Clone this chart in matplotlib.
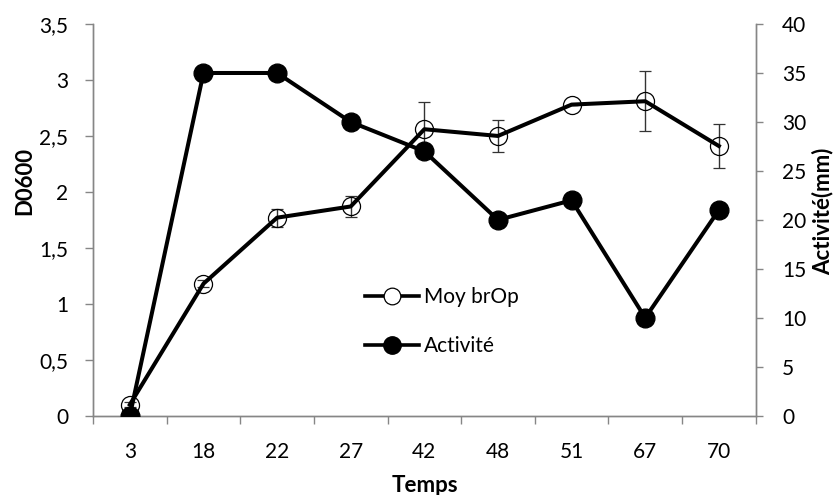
import matplotlib
matplotlib.use("Agg")
import matplotlib.pyplot as plt
import numpy as np
from matplotlib.ticker import FuncFormatter, FixedLocator
from matplotlib.lines import Line2D

# data
temps = ["3", "18", "22", "27", "42", "48", "51", "67", "70"]
moy_brop = [0.10, 1.18, 1.77, 1.87, 2.56, 2.50, 2.78, 2.81, 2.41]
moy_err = [0.02, 0.03, 0.08, 0.09, 0.24, 0.14, 0.0, 0.27, 0.20]
activite = [0, 35, 35, 30, 27, 20, 22, 10, 21]

plt.rcParams['font.family'] = ['Lato', 'DejaVu Sans']
GRAY = '#868686'
FS = 15
LFS = 16

fig = plt.figure(figsize=(8.35, 4.95), dpi=100)
ax1 = fig.add_axes([0.1114, 0.160, 0.7936, 0.7915])
ax2 = ax1.twinx()

x = np.arange(len(temps))

ax1.errorbar(x, moy_brop, yerr=moy_err, color='black', lw=2.9,
             marker='o', ms=13, mfc='none', mec='black', mew=0.9,
             ecolor='#333333', elinewidth=1.0, capsize=4.5, capthick=1.0,
             zorder=3)
ax2.plot(x, activite, color='black', lw=2.9, marker='o', ms=13.5,
         mfc='black', mec='black', zorder=3)

ax1.set_xlim(-0.5, len(temps) - 0.5)
ax1.set_ylim(0, 3.5)
ax2.set_ylim(0, 40)
ax1.set_yticks(np.arange(0, 3.51, 0.5))
ax2.set_yticks(np.arange(0, 41, 5))

def comma(v, pos):
    s = f"{v:g}"
    return s.replace('.', ',')

ax1.yaxis.set_major_formatter(FuncFormatter(comma))

ax1.set_xticks(x)
ax1.set_xticklabels(temps)
ax1.xaxis.set_minor_locator(FixedLocator(np.arange(-0.5, len(temps), 1.0)))
ax1.tick_params(axis='x', which='major', length=0, pad=19, labelsize=FS)
ax1.tick_params(axis='x', which='minor', length=6, color=GRAY, width=1)
ax1.tick_params(axis='y', length=6, color=GRAY, width=1, labelsize=FS, pad=12)
ax2.tick_params(axis='y', length=5, color=GRAY, width=1, labelsize=FS, pad=14)

for ax in (ax1, ax2):
    ax.spines['top'].set_visible(False)
    for s in ('left', 'right', 'bottom'):
        ax.spines[s].set_color(GRAY)
        ax.spines[s].set_linewidth(1)

ax1.set_xlabel('Temps', fontweight='bold', fontsize=LFS, va='center')
ax1.xaxis.set_label_coords(0.501, -0.177)
ax1.set_ylabel('D0600', fontweight='bold', fontsize=LFS, va='center')
ax1.yaxis.set_label_coords(-0.1026, 0.599)
ax2.set_ylabel('Activité(mm)', fontweight='bold', fontsize=LFS, va='center')
ax2.yaxis.set_label_coords(1.1016, 0.523)

handles = [
    Line2D([], [], color='black', lw=2.6, marker='o', ms=12, mfc='white', mec='black', mew=0.9),
    Line2D([], [], color='black', lw=2.6, marker='o', ms=12.5, mfc='black', mec='black'),
]
ax2.legend(handles, ['Moy brOp', 'Activité'], loc='center left',
           bbox_to_anchor=(0.394, 0.240), frameon=False, fontsize=FS,
           handlelength=2.6, handletextpad=0.25, labelspacing=1.38, borderpad=0)

fig.savefig('out.png', dpi=100)
